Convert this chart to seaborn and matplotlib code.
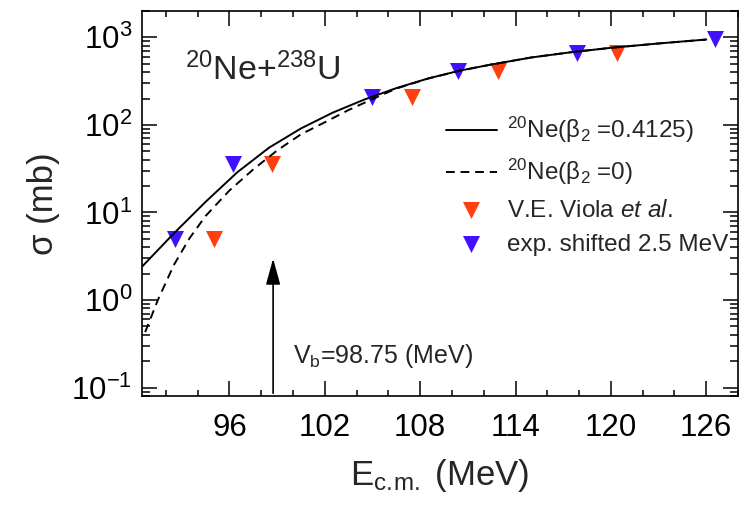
import numpy as np
import pandas as pd
import matplotlib
matplotlib.use('Agg')
import matplotlib.pyplot as plt
import seaborn as sns
from matplotlib.ticker import MultipleLocator, LogLocator, NullFormatter

# calculated cross sections
e_def = [90.5, 92.5, 94.5, 96.5, 98.5, 100.5, 102.5, 104.5, 106.5, 108.5, 110.5,
         112.5, 115.0, 117.5, 120.0, 123.0, 126.0]
sig_def = [2.40, 5.75, 13.2, 28.8, 55, 91, 138, 195, 263, 339, 417,
           490, 589, 676, 759, 851, 944]

e_sph = [90.7, 91.5, 92.5, 93.5, 94.5, 96.0, 97.5, 99.0, 100.5, 102.0, 103.5, 105.0,
         106.5, 108.5, 110.5, 112.5, 115.0, 117.5, 120.0, 123.0, 126.0]
sig_sph = [0.43, 1.0, 2.5, 5.1, 9.1, 17.8, 31, 51, 78, 107, 148, 197,
           260, 338, 416, 490, 589, 676, 759, 851, 944]

# experimental data
e_viola = [95.06, 98.7, 107.46, 112.9, 120.36]
sig_viola = [5.0, 36, 208, 411, 658]
e_shift = [92.56, 96.2, 104.96, 110.4, 117.86, 126.55]
sig_shift = [5.0, 36, 208, 411, 658, 949]

v_b = 98.75

sns.set_style('ticks')
plt.rcParams['font.family'] = ['Liberation Sans', 'DejaVu Sans']
plt.rcParams['mathtext.fontset'] = 'custom'
plt.rcParams['mathtext.rm'] = 'Liberation Sans'
plt.rcParams['mathtext.it'] = 'Liberation Sans:italic'
plt.rcParams['mathtext.bf'] = 'Liberation Sans:bold'

red = '#FF3F0F'
blue = '#4010FF'

fig = plt.figure(figsize=(7.41, 5.13), dpi=100)
ax = fig.add_axes([0.1916, 0.228, 0.8044, 0.7506])

sns.lineplot(x=e_def, y=sig_def, color='black', lw=1.4, ax=ax,
             label=r'$^{20}$Ne(β$_{2}$ =0.4125)')
sns.lineplot(x=e_sph, y=sig_sph, color='black', lw=1.4, ax=ax,
             linestyle=(0, (4.5, 3)), label=r'$^{20}$Ne(β$_{2}$ =0)')
sns.scatterplot(x=e_viola, y=sig_viola, marker='v', s=150, color=red,
                edgecolor=red, linewidth=0, ax=ax, label=r'V.E. Viola $\it{et\ al.}$')
sns.scatterplot(x=e_shift, y=sig_shift, marker='v', s=150, color=blue,
                edgecolor=blue, linewidth=0, ax=ax, label='exp. shifted 2.5 MeV')

ax.set_yscale('log')
ax.set_xlim(90.5, 128)
ax.set_ylim(0.08, 2000)

ax.xaxis.set_major_locator(MultipleLocator(6))
ax.xaxis.set_minor_locator(MultipleLocator(2))
ax.yaxis.set_major_locator(LogLocator(base=10, numticks=10))
ax.yaxis.set_minor_locator(LogLocator(base=10, subs=np.arange(2, 10), numticks=20))
ax.yaxis.set_minor_formatter(NullFormatter())

ax.tick_params(which='both', direction='in', top=True, right=True, width=1.1, colors='black')
ax.tick_params(axis='x', which='major', length=11, labelsize=22.5, pad=12)
ax.tick_params(axis='x', which='minor', length=4.5)
ax.tick_params(axis='y', which='major', length=11, labelsize=22.5, pad=7)
ax.tick_params(axis='y', which='minor', length=6)
for sp in ax.spines.values():
    sp.set_linewidth(1.2)
    sp.set_color('black')

ax.set_xlabel(r'E$_{\mathrm{c.\!m.}}$ (MeV)', fontsize=25, labelpad=10)
ax.set_ylabel('σ (mb)', fontsize=25, labelpad=8)

ax.text(0.072, 0.82, r'$^{20}$Ne+$^{238}$U', transform=ax.transAxes, fontsize=24.5)
ax.text(0.253, 0.085, r'V$_{\mathrm{b}}$=98.75 (MeV)', transform=ax.transAxes, fontsize=18)
ax.annotate('', xy=(v_b, 3.2), xytext=(v_b, 0.08),
            arrowprops=dict(arrowstyle='-|>,head_length=0.8,head_width=0.22',
                            color='black', lw=1.2, mutation_scale=20))

ax.legend(loc='upper left', bbox_to_anchor=(0.51, 0.73), frameon=False, fontsize=17.5,
          handlelength=2.1, handletextpad=0.4, labelspacing=0.5, borderpad=0, borderaxespad=0)

fig.savefig('out.png', dpi=100)
